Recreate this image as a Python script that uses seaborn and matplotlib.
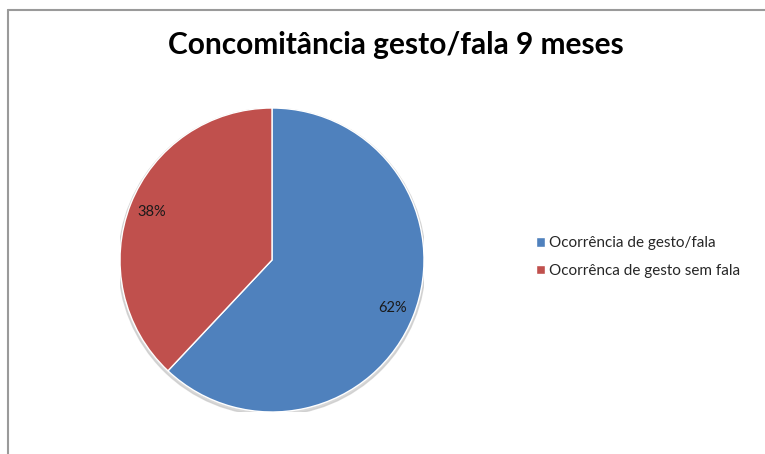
import matplotlib
matplotlib.use("Agg")
import matplotlib.pyplot as plt
import seaborn as sns
from matplotlib.lines import Line2D
from matplotlib.patches import Circle

categories = ["Ocorrência de gesto/fala", "Ocorrênca de gesto sem fala"]
values = [62, 38]
colors = ["#4F81BD", "#C0504D"]
title = "Concomitância gesto/fala 9 meses"

sns.set_theme(style="white")
plt.rcParams['font.family'] = ['Lato', 'DejaVu Sans']

W, H = 765, 454
fig = plt.figure(figsize=(W / 100, H / 100), dpi=100)

# frame (chart border)
fig.add_artist(Line2D([8 / W, 8 / W], [0, 1 - 10 / H], color="#9a9a9a", lw=1.5, transform=fig.transFigure))
fig.add_artist(Line2D([8 / W, 1], [1 - 10 / H, 1 - 10 / H], color="#9a9a9a", lw=1.5, transform=fig.transFigure))

cx, cy, r = 272, 260, 152
ax = fig.add_axes([(cx - r) / W, (H - cy - r) / H, 2 * r / W, 2 * r / H])

# subtle shadow
ax.add_patch(Circle((0.0, -0.012), 1.01, color="#c8c8c8", zorder=0, alpha=0.7))

wedges, texts, autotexts = ax.pie(
    values, colors=colors, startangle=90, counterclock=False, radius=1,
    autopct=lambda p: f"{p:.0f}%", pctdistance=0.85,
    wedgeprops=dict(edgecolor="white", linewidth=1),
    textprops=dict(fontsize=10.5, color="#1a1a1a"),
)
for w in wedges:
    w.set_zorder(2)
for t in autotexts:
    t.set_zorder(3)
ax.set_xlim(-1, 1)
ax.set_ylim(-1, 1)
ax.set_aspect("equal")
ax.axis("off")

fig.text(396 / W, 1 - 45 / H, title, ha="center", va="center", fontsize=21.5, fontweight="bold", color="#000000")

leg = fig.legend(wedges, categories, loc="center left", bbox_to_anchor=(528 / W, 1 - 257 / H),
                 frameon=False, fontsize=11, handlelength=0.6, handleheight=0.6,
                 handletextpad=0.3, labelspacing=0.9, borderpad=0)

fig.savefig("out.png", dpi=100)
